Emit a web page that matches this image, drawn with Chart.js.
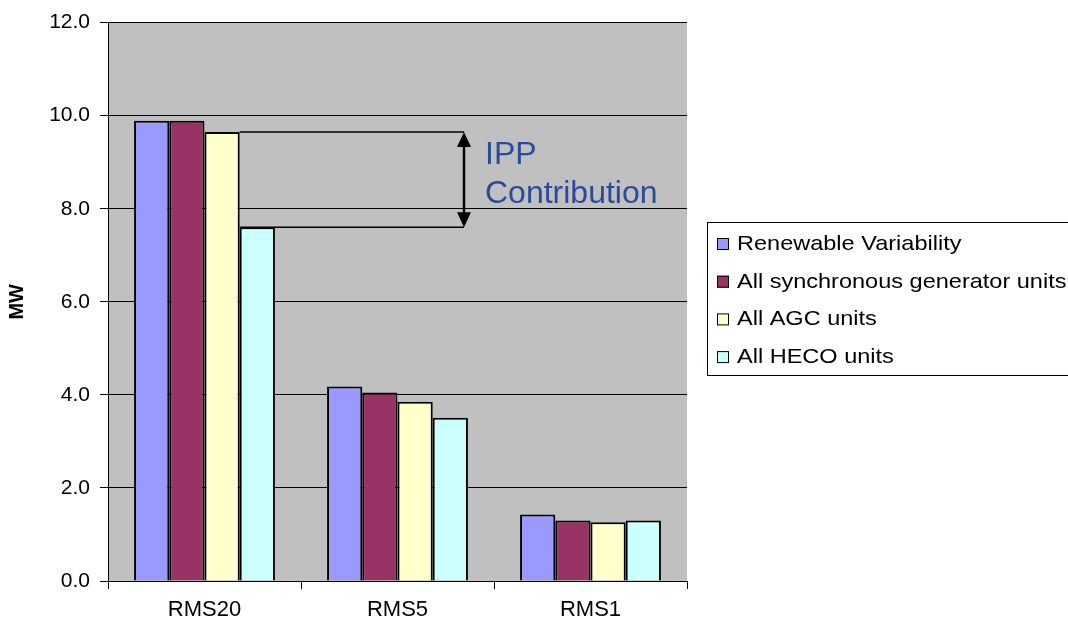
<!DOCTYPE html>
<html>
<head>
<meta charset="utf-8">
<script src="https://cdn.jsdelivr.net/npm/chart.js@4"></script>
<style>
  html, body { margin: 0; padding: 0; background: #fff; }
  #wrap { width: 1068px; height: 629px; }
</style>
</head>
<body>
<div id="wrap"><canvas id="rmsChart"></canvas></div>
<script>
const categories = ['RMS20', 'RMS5', 'RMS1'];
const seriesNames = ['Renewable Variability', 'All synchronous generator units', 'All AGC units', 'All HECO units'];
const renewable = [9.89, 4.18, 1.43];
const syncUnits = [9.89, 4.05, 1.30];
const agcUnits  = [9.65, 3.85, 1.26];
const hecoUnits = [7.60, 3.51, 1.30];
const yTicks = [0, 2, 4, 6, 8, 10, 12];
const colors = ['#9999FF', '#993366', '#FFFFCC', '#CCFFFF'];

const FONT = '"Liberation Sans", Arial, sans-serif';

// grey plot background
const plotBg = {
  id: 'plotBg',
  beforeDraw(chart) {
    const { ctx, chartArea: a } = chart;
    ctx.save();
    ctx.fillStyle = '#C0C0C0';
    ctx.fillRect(a.left, a.top, a.right - a.left, a.bottom - a.top);
    ctx.restore();
  }
};

// IPP contribution bracket + arrow
const ippNote = {
  id: 'ippNote',
  afterDatasetsDraw(chart) {
    const { ctx, chartArea: a } = chart;
    const agc = chart.getDatasetMeta(2).data[0];
    const heco = chart.getDatasetMeta(3).data[0];
    const x0 = agc.x + agc.width / 2;
    const xa = a.left + 356;
    const y1 = agc.y, y2 = heco.y;
    ctx.save();
    ctx.strokeStyle = '#000';
    ctx.lineWidth = 1.5;
    ctx.beginPath();
    ctx.moveTo(x0, y1); ctx.lineTo(xa, y1);
    ctx.moveTo(x0, y2); ctx.lineTo(xa, y2);
    ctx.stroke();
    ctx.lineWidth = 2.5;
    ctx.beginPath();
    ctx.moveTo(xa, y1 + 10); ctx.lineTo(xa, y2 - 10);
    ctx.stroke();
    ctx.fillStyle = '#000';
    ctx.beginPath();
    ctx.moveTo(xa, y1); ctx.lineTo(xa - 7, y1 + 15); ctx.lineTo(xa + 7, y1 + 15); ctx.closePath();
    ctx.moveTo(xa, y2); ctx.lineTo(xa - 7, y2 - 15); ctx.lineTo(xa + 7, y2 - 15); ctx.closePath();
    ctx.fill();
    ctx.fillStyle = '#2A4B9B';
    ctx.font = '32px ' + FONT;
    ctx.textBaseline = 'alphabetic';
    ctx.fillText('IPP', xa + 21, y1 + 32);
    ctx.fillText('Contribution', xa + 21, y1 + 71);
    ctx.restore();
  }
};

// boxed legend on the right
const boxLegend = {
  id: 'boxLegend',
  afterDraw(chart) {
    const { ctx } = chart;
    ctx.save();
    ctx.strokeStyle = '#000';
    ctx.lineWidth = 1;
    ctx.strokeRect(707.5, 222.5, 400, 153);
    ctx.font = '21px ' + FONT;
    ctx.textBaseline = 'alphabetic';
    chart.data.datasets.forEach((ds, i) => {
      const base = 250 + i * 37.7;
      ctx.fillStyle = ds.backgroundColor;
      ctx.fillRect(717, base - 12, 12, 12);
      ctx.strokeRect(717.5, base - 11.5, 11, 11);
      ctx.fillStyle = '#000';
      ctx.save();
      ctx.translate(737, base);
      ctx.scale(1.12, 1);
      ctx.fillText(ds.label, 0, 0);
      ctx.restore();
    });
    ctx.restore();
  }
};

new Chart(document.getElementById('rmsChart'), {
  type: 'bar',
  data: {
    labels: categories,
    datasets: [
      { label: seriesNames[0], data: renewable, backgroundColor: colors[0] },
      { label: seriesNames[1], data: syncUnits, backgroundColor: colors[1] },
      { label: seriesNames[2], data: agcUnits,  backgroundColor: colors[2] },
      { label: seriesNames[3], data: hecoUnits, backgroundColor: colors[3] },
    ].map(d => Object.assign(d, { borderColor: '#000', borderWidth: 2, categoryPercentage: 0.73, barPercentage: 1 }))
  },
  options: {
    responsive: true,
    maintainAspectRatio: false,
    animation: false,
    layout: { padding: { left: 0, top: 20, right: 381, bottom: 0 } },
    plugins: { legend: { display: false }, tooltip: { enabled: false } },
    scales: {
      x: {
        grid: { drawOnChartArea: false, drawTicks: true, tickLength: 8, color: '#000', offset: true },
        border: { color: '#000', width: 1 },
        ticks: { color: '#000', font: { family: FONT, size: 22 }, padding: 8 },
        afterFit: s => { s.height = 48; }
      },
      y: {
        min: 0, max: 12,
        afterBuildTicks: s => { s.ticks = yTicks.map(v => ({ value: v })); },
        grid: { color: '#000', lineWidth: 1, tickLength: 8 },
        border: { color: '#000', width: 1 },
        ticks: { color: '#000', font: { family: FONT, size: 21 }, padding: 10, callback: v => v.toFixed(1) },
        title: { display: true, text: 'MW', color: '#000', font: { family: FONT, size: 20, weight: 'bold' }, padding: { top: 5, bottom: 0 } },
        afterFit: s => { s.width = 108; }
      }
    }
  },
  plugins: [plotBg, ippNote, boxLegend]
});
</script>
</body>
</html>
